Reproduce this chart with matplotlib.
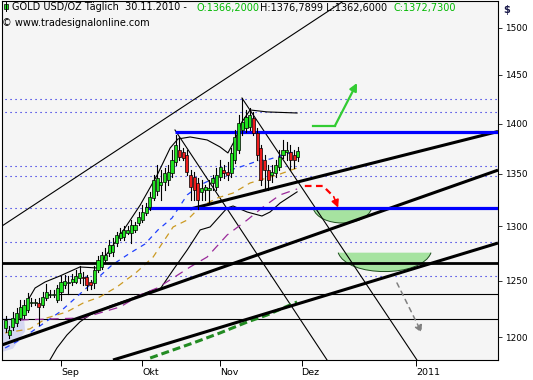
import numpy as np
import matplotlib.pyplot as plt
from matplotlib.patches import PathPatch
from matplotlib.path import Path
from matplotlib.ticker import NullLocator

plt.rcParams['font.family'] = ['DejaVu Sans']

# ---- data: daily gold bars, x = trading day index (0 = 1 Sep 2010) ----
bar_idx = np.arange(-15, 65)
opens = [1208, 1202, 1209, 1212, 1216.5, 1219, 1223.5, 1230, 1230, 1230,
         1228, 1234.5, 1237, 1237, 1232.5, 1239.5, 1246, 1248, 1248.5, 1249,
         1252.5, 1253, 1253, 1248.5, 1248, 1259.5, 1262.5, 1268.5, 1275, 1276,
         1284.5, 1289, 1290, 1293.5, 1293.5, 1296.5, 1303, 1306, 1312.5, 1318,
         1326.5, 1333.5, 1339.5, 1342, 1344, 1351, 1361.5, 1373.5, 1371.5, 1368.5,
         1349, 1347, 1341, 1332.5, 1334.5, 1334.5, 1341, 1337.5, 1347, 1354,
         1352, 1351, 1363.5, 1373.5, 1393.5, 1395.5, 1396.5, 1405.5, 1390.5, 1375.5,
         1363.5, 1354, 1349, 1351, 1357, 1368.5, 1371.5, 1371.5, 1368.5, 1366.2]
highs = [1218.5, 1210, 1222, 1225.5, 1232.5, 1232.5, 1239, 1234.5, 1233.5, 1234.5,
         1239.5, 1247, 1241.5, 1241.5, 1246, 1254, 1255, 1254, 1256, 1259.5,
         1263.5, 1258, 1255, 1250.5, 1263.5, 1272.5, 1276, 1279.5, 1287, 1289,
         1294.5, 1298.5, 1300, 1300, 1306, 1304, 1313.5, 1320, 1322, 1332.5,
         1349, 1358.5, 1354, 1356, 1359, 1373.5, 1388.5, 1386.5, 1375.5, 1373.5,
         1354, 1352, 1346, 1344, 1339.5, 1344, 1349, 1356, 1363.5, 1359,
         1361.5, 1375.5, 1393.5, 1408.5, 1426, 1414, 1416, 1412, 1395.5, 1378.5,
         1368.5, 1359, 1359, 1364, 1373.5, 1383.5, 1381.5, 1378.5, 1373.5, 1376.79]
lows = [1204.5, 1199, 1206, 1209.5, 1215, 1216.5, 1222, 1227, 1228, 1210.5,
        1226.5, 1232.5, 1235.5, 1235, 1231, 1232.5, 1243.5, 1238, 1246, 1248,
        1248, 1246, 1241.5, 1242.5, 1243.5, 1258, 1260.5, 1267, 1272.5, 1272.5,
        1281.5, 1287, 1287, 1293, 1284.5, 1294.5, 1301, 1304, 1310.5, 1315.5,
        1325, 1330, 1325, 1334.5, 1339.5, 1347, 1359, 1363.5, 1363.5, 1349,
        1325, 1325, 1316, 1325, 1325, 1323, 1334.5, 1334.5, 1344, 1346,
        1344, 1347, 1361, 1370.5, 1388.5, 1391.5, 1393.5, 1388.5, 1363.5, 1339.5,
        1336.5, 1334.5, 1342, 1347, 1354, 1365.5, 1363.5, 1354, 1356, 1362.6]
closes = [1215, 1206, 1217, 1221, 1226.5, 1228, 1234.5, 1231, 1230.5, 1226.5,
          1235, 1239.5, 1238, 1237.5, 1243.5, 1248.5, 1249.5, 1249, 1251.5, 1254,
          1257, 1252.5, 1246, 1246, 1259.5, 1268.5, 1273.5, 1273.5, 1282.5, 1282.5,
          1292, 1293.5, 1296.5, 1296.5, 1301, 1301, 1308.5, 1313.5, 1318, 1327.5,
          1344, 1346, 1342, 1351, 1352, 1363.5, 1378.5, 1366.5, 1365.5, 1352,
          1337.5, 1334.5, 1325, 1336.5, 1337.5, 1336.5, 1346, 1349, 1357, 1351,
          1349, 1370.5, 1386.5, 1400.5, 1401.5, 1406.5, 1408.5, 1390.5, 1368.5, 1344,
          1354, 1344, 1352, 1359, 1366.5, 1373.5, 1373.5, 1363.5, 1363.5, 1372.73]

# Bollinger bands
bb_up_x = [-8.9, -7.0, -4.3, -0.3, 5.1, 9.7, 13.2, 17.3, 21.4, 26.0, 29.5, 31.6,
           34.9, 39.5, 43.0, 45.1, 47.0, 48.9, 51.1, 55.7, 63.8]
bb_up_y = [1232.6, 1243.3, 1248.7, 1254.1, 1262.3, 1261.4, 1277.9, 1298.4, 1320.0,
           1349.0, 1375.5, 1384.5, 1386.5, 1383.5, 1376.5, 1370.6, 1383.5, 1401.6,
           1413.8, 1411.8, 1410.7]
bb_lo_x = [-3.0, -1.1, 1.6, 5.1, 7.8, 13.2, 18.7, 24.1, 26.8, 30.3, 34.1, 37.6,
           40.3, 44.9, 46.5, 50.3, 54.3, 56.5, 59.2, 63.8]
bb_lo_y = [1180.3, 1190.6, 1201.8, 1213.2, 1219.3, 1227.2, 1233.5, 1240.6, 1242.4,
           1259.6, 1277.9, 1296.5, 1299.3, 1317.2, 1319.1, 1313.4, 1309.6, 1313.4,
           1321.9, 1332.6]

# moving averages
ma_fast_x = [-15.1, -11.1, -5.7, -0.3, 2.4, 7.8, 13.8, 18.7, 22.7, 26.2, 30.0, 34.1,
             37.6, 41.6, 44.9, 48.4, 53.2, 56.5, 61.9, 63.8]
ma_fast_y = [1190.6, 1197.5, 1209.7, 1222.0, 1229.9, 1246.0, 1264.1, 1275.1, 1283.4,
             1296.5, 1307.7, 1329.7, 1339.3, 1346.1, 1352.9, 1356.8, 1362.7, 1364.6,
             1370.6, 1372.5]
ma_mid_x = [-15.1, -8.4, -3.8, 1.6, 6.0, 10.5, 15.1, 20.5, 24.9, 30.3, 34.1, 37.6,
            42.2, 46.5, 51.1, 55.7, 59.2, 63.8]
ma_mid_y = [1203.6, 1207.1, 1216.7, 1222.0, 1229.9, 1235.3, 1244.2, 1257.8, 1271.4,
            1299.3, 1305.8, 1318.1, 1326.7, 1331.5, 1341.2, 1346.1, 1349.9, 1355.8]
ma_slow_x = [-11.1, 6.0, 10.5, 16.0, 21.4, 26.0, 30.3, 34.9, 39.5, 44.9, 50.3, 54.6,
             59.2, 63.8]
ma_slow_y = [1214.9, 1216.7, 1221.1, 1226.4, 1237.1, 1243.3, 1252.3, 1262.3, 1271.4,
             1291.8, 1305.8, 1318.1, 1329.7, 1335.4]
ma_200_x = [24.1, 30.3, 35.7, 43.0, 50.3, 55.7, 63.8]
ma_200_y = [1182.0, 1188.9, 1194.9, 1203.6, 1213.1, 1219.3, 1230.8]

# horizontal levels
dotted_levels = [1425.0, 1411.8, 1357.8, 1348.0, 1317.2, 1285.3, 1254.1]
blue_levels = [1391.5, 1317.2]
blue_starts = [30.8, 22.7]
black_thick_level = 1266.0
thin_levels = [1238.0, 1215.8]
thin_starts = [-1.0, -16.0]

# trend lines (x0, p0, x1, p1)
thick_lines = [(34.9, 1316.2, 118.1, 1392.0),
               (-15.95, 1193.2, 118.1, 1353.7),
               (14.05, 1180.3, 118.1, 1284.3)]
thin_lines = [(-15.95, 1300.2, 76.8, 1530.6),
              (30.8, 1393.5, 71.9, 1180.3),
              (48.9, 1426.0, 96.2, 1180.3)]

# target zones (left, right, top, bottom)
bowls = [(68.1, 84.0, 1317.2, 1303.0),
         (74.9, 100.0, 1275.4, 1258.1)]

# arrows
green_arrow = [(68.1, 1397.5), (74.0, 1397.5), (80.0, 1441.6)]
red_arrow = [(65.9, 1338.3), (70.8, 1338.3), (73.7, 1328.0), (74.9, 1317.5)]
grey_arrow = [(90.8, 1247.8), (97.5, 1203.6)]

shade_x = [-15.95, -10.0, -9.7, -13.0, -15.95]
shade_y = [1216.7, 1216.7, 1205.0, 1190.0, 1187.2]

tick_pos = [0, 22, 43, 65, 96]
tick_lab = ['Sep', 'Okt', 'Nov', 'Dez', '2011']
ytick_vals = [1200, 1250, 1300, 1350, 1400, 1450, 1500]

W, H = 533, 380
fig = plt.figure(figsize=(W / 100, H / 100), dpi=100)
fig.patch.set_facecolor('white')
ax = fig.add_axes([2 / W, 20 / H, 496 / W, 359 / H])
ax.set_facecolor('#f5f5f5')
ax.set_yscale('log')
ax.set_xlim(-15.95, 118.1)
ax.set_ylim(1180.3, 1529.5)

xl = ax.get_xlim()

# dotted levels
for lv in dotted_levels:
    ax.plot([-15.1, xl[1]], [lv, lv], color='#1010e0', lw=0.8,
            linestyle=(0, (1, 3.5)), zorder=1)

ax.fill(shade_x, shade_y, color='#d6d8f2', zorder=1, lw=0)

# bowls
for x0, x1, top, bot in bowls:
    d = np.log(top) - np.log(bot)
    ctrl = np.exp(np.log(top) - d * 4 / 3)
    w = x1 - x0
    verts = [(x0, top), (x0 + 0.1 * w, ctrl), (x1 - 0.1 * w, ctrl), (x1, top)]
    fill = PathPatch(Path(verts + [(x0, top)],
                          [Path.MOVETO, Path.CURVE4, Path.CURVE4, Path.CURVE4, Path.CLOSEPOLY]),
                     facecolor='#a6e3a0', edgecolor='none', zorder=2)
    ax.add_patch(fill)
    edge = PathPatch(Path(verts, [Path.MOVETO, Path.CURVE4, Path.CURVE4, Path.CURVE4]),
                     facecolor='none', edgecolor='#1d4d1d', lw=0.7, zorder=2.1)
    ax.add_patch(edge)

# thin lines
for lv, st in zip(thin_levels, thin_starts):
    ax.plot([st, xl[1]], [lv, lv], color='black', lw=0.8, zorder=2.2)
for x0, p0, x1, p1 in thin_lines:
    ax.plot([x0, x1], [p0, p1], color='black', lw=0.8, zorder=2.2)
ax.plot(bb_up_x, bb_up_y, color='black', lw=0.8, zorder=2.2)
ax.plot(bb_lo_x, bb_lo_y, color='black', lw=0.8, zorder=2.2)

# moving averages
ax.plot(ma_fast_x, ma_fast_y, color='#2040ff', lw=0.9, linestyle=(0, (4, 4)), zorder=2.3)
ax.plot(ma_mid_x, ma_mid_y, color='#cc9a22', lw=0.9, linestyle=(0, (5, 4)), zorder=2.3)
ax.plot(ma_slow_x, ma_slow_y, color='#9a2a9a', lw=0.9, linestyle=(0, (7, 5)), zorder=2.3)
ax.plot(ma_200_x, ma_200_y, color='#228b22', lw=2.2, linestyle=(0, (2.6, 1.3)), zorder=2.3)

# thick lines
ax.plot([xl[0], xl[1]], [black_thick_level] * 2, color='black', lw=2.0, zorder=3)
for x0, p0, x1, p1 in thick_lines:
    ax.plot([x0, x1], [p0, p1], color='black', lw=2.2, solid_capstyle='butt', zorder=3)
for lv, st in zip(blue_levels, blue_starts):
    ax.plot([st, xl[1]], [lv, lv], color='#0000ff', lw=2.3, solid_capstyle='butt', zorder=3.1)

# candles
for i, o, h, l, c in zip(bar_idx, opens, highs, lows, closes):
    ax.plot([i, i], [l, h], color='black', lw=0.8, zorder=4)
    col = '#1fe01f' if c >= o else '#ee1c1c'
    lo, hi = min(o, c), max(o, c)
    if hi - lo < 0.4:
        ax.plot([i - 0.42, i + 0.42], [o, o], color='black', lw=0.8, zorder=4.1)
    else:
        ax.bar(i, hi - lo, bottom=lo, width=0.85, color=col, edgecolor='black',
               linewidth=0.5, zorder=4.1)

# arrows
gx, gy = zip(*green_arrow)
ax.plot(gx[:2], gy[:2], color='#33cc33', lw=1.6, zorder=5)
ax.annotate('', xy=green_arrow[2], xytext=green_arrow[1],
            arrowprops=dict(arrowstyle='-|>', color='#33cc33', lw=1.6,
                            mutation_scale=11, shrinkA=0, shrinkB=0), zorder=5)
rx, ry = zip(*red_arrow)
ax.plot(rx[:3], ry[:3], color='#ff0000', lw=1.6, linestyle=(0, (3, 2)), zorder=5)
ax.annotate('', xy=red_arrow[3], xytext=red_arrow[2],
            arrowprops=dict(arrowstyle='-|>', color='#ff0000', lw=1.2,
                            mutation_scale=11, shrinkA=0, shrinkB=0), zorder=5)
ax.annotate('', xy=grey_arrow[1], xytext=grey_arrow[0],
            arrowprops=dict(arrowstyle='-|>', color='#808080', lw=1.1, linestyle=(0, (3, 3)),
                            mutation_scale=11, shrinkA=0, shrinkB=0), zorder=5)

# axes styling
for s in ax.spines.values():
    s.set_color('black')
    s.set_linewidth(0.8)
ax.yaxis.tick_right()
ax.yaxis.set_minor_locator(NullLocator())
ax.set_yticks(ytick_vals)
ax.set_yticklabels([str(v) for v in ytick_vals])
ax.tick_params(axis='y', which='major', length=3, width=0.7, pad=2, labelsize=6.4,
               colors='#333333', labelcolor='black')
ax.set_xticks(tick_pos)
ax.set_xticklabels(tick_lab, ha='left')
ax.tick_params(axis='x', length=4, width=0.7, pad=2, labelsize=6.8, colors='black')


def fx(px):
    return px / W


def fy(py):
    return 1 - py / H


fig.text(fx(503), fy(13), '$', fontsize=7, color='#1a1a4a', fontweight='bold')

# header
hdr = [(11.7, 'GOLD USD/OZ Täglich  30.11.2010 - ', 'black'),
       (196.5, 'O:1366,2000', '#00b800'),
       (260.5, 'H:1376,7899 L:1362,6000', 'black'),
       (393.0, 'C:1372,7300', '#00b800')]
for px, txt, col in hdr:
    fig.text(fx(px), fy(10.5), txt, fontsize=7, color=col, va='baseline', zorder=10)
fig.text(fx(2), fy(26.5), '\u00a9 www.tradesignalonline.com', fontsize=7,
         color='black', va='baseline', zorder=10)
# small candle icon
fig.add_artist(plt.Line2D([fx(6), fx(6)], [fy(2), fy(11)], color='black', lw=0.7))
fig.add_artist(plt.Rectangle((fx(4), fy(9)), 4 / W, 5 / H, facecolor='#1fe01f',
                             edgecolor='black', lw=0.5))

fig.savefig('out.png', dpi=100)
